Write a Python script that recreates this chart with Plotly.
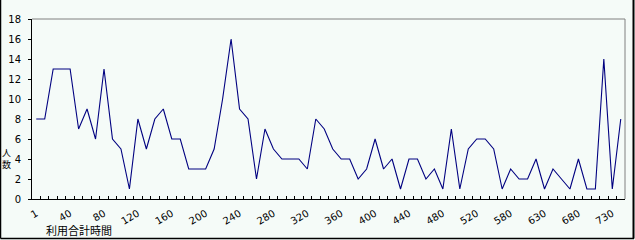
import plotly.graph_objects as go

categories = ["1", "10", "20", "30", "40", "50", "60", "70", "80", "90",
              "100", "110", "120", "130", "140", "150", "160", "170", "180", "190",
              "200", "210", "220", "230", "240", "250", "260", "270", "280", "290",
              "300", "310", "320", "330", "340", "350", "360", "370", "380", "390",
              "400", "410", "420", "430", "440", "450", "460", "470", "480", "490",
              "500", "510", "520", "530", "540", "560", "580", "590", "600", "620",
              "630", "640", "660", "670", "680", "690", "700", "720", "730", "740"]
people = [8, 8, 13, 13, 13, 7, 9, 6, 13, 6,
          5, 1, 8, 5, 8, 9, 6, 6, 3, 3,
          3, 5, 10, 16, 9, 8, 2, 7, 5, 4,
          4, 4, 3, 8, 7, 5, 4, 4, 2, 3,
          6, 3, 4, 1, 4, 4, 2, 3, 1, 7,
          1, 5, 6, 6, 5, 1, 3, 2, 2, 4,
          1, 3, 2, 1, 4, 1, 1, 14, 1, 8]
label_step = 4
y_ticks = [0, 2, 4, 6, 8, 10, 12, 14, 16, 18]
x_title = "利用合計時間"
y_title = "人<br>数"

n = len(categories)
label_vals = [categories[i] for i in range(0, n, label_step)]
boundaries = [i - 0.5 for i in range(n + 1)]

BG = "#F5FBF8"
font_main = "Noto Sans CJK JP, DejaVu Sans, sans-serif"

def px_x(p):
    return (p - 32) / 593

def px_y(p):
    return (199 - p) / 180

fig = go.Figure()
fig.add_trace(go.Scatter(x=categories, y=people, mode="lines",
                         line=dict(color="#000080", width=1.1),
                         hoverinfo="x+y", showlegend=False))
# helper trace for the boundary tick marks axis
fig.add_trace(go.Scatter(x=[-0.5, n - 0.5], y=[None, None], xaxis="x2",
                         mode="lines", showlegend=False, hoverinfo="skip"))

fig.update_layout(
    width=635, height=240,
    margin=dict(l=32, r=10, t=19, b=41),
    paper_bgcolor=BG, plot_bgcolor=BG,
    font=dict(family=font_main, size=10, color="#000000"),
    xaxis=dict(type="category", range=[-0.5, n - 0.5], automargin=False,
               tickmode="array", tickvals=label_vals, ticktext=label_vals,
               tickangle=-30, ticks="", showgrid=False, zeroline=False,
               showline=True, linecolor="#000000", linewidth=1,
               tickfont=dict(size=10, family="DejaVu Sans, sans-serif"),
               ticklabelstandoff=4),
    xaxis2=dict(overlaying="x", anchor="y", side="bottom", type="linear",
                range=[-0.5, n - 0.5], tickmode="array", tickvals=boundaries,
                ticks="inside", ticklen=3, tickcolor="#000000", automargin=False,
                showticklabels=False, showgrid=False, zeroline=False,
                showline=False),
    yaxis=dict(range=[0, 18], tickmode="array", tickvals=y_ticks, automargin=False,
               ticks="outside", ticklen=3, tickcolor="#000000",
               showgrid=False, zeroline=False, showline=True,
               linecolor="#000000", linewidth=1,
               tickfont=dict(size=10, family="DejaVu Sans, sans-serif"),
               ticklabelstandoff=5),
    shapes=[
        # top and right edges of the plot area (gray)
        dict(type="line", xref="paper", yref="paper", x0=0, x1=1, y0=1, y1=1,
             line=dict(color="#808080", width=1)),
        dict(type="line", xref="paper", yref="paper", x0=1, x1=1, y0=0, y1=1,
             line=dict(color="#808080", width=1)),
        # outer frame of the chart (left, right, bottom)
        dict(type="line", xref="paper", yref="paper",
             x0=px_x(0.5), x1=px_x(0.5), y0=px_y(238.5), y1=px_y(-2),
             line=dict(color="#000000", width=1.5)),
        dict(type="line", xref="paper", yref="paper",
             x0=px_x(633.5), x1=px_x(633.5), y0=px_y(238.5), y1=px_y(-2),
             line=dict(color="#000000", width=2)),
        dict(type="line", xref="paper", yref="paper",
             x0=px_x(0.5), x1=px_x(634), y0=px_y(238.5), y1=px_y(238.5),
             line=dict(color="#000000", width=1.5)),
    ],
    annotations=[
        dict(text=x_title, xref="paper", yref="paper",
             x=px_x(79), y=px_y(230),
             showarrow=False, xanchor="center", yanchor="middle",
             font=dict(size=11, family=font_main)),
        dict(text=y_title, xref="paper", yref="paper",
             x=px_x(6), y=px_y(158),
             showarrow=False, xanchor="center", yanchor="middle",
             font=dict(size=9, family=font_main)),
    ],
)

fig.write_html("out.html")
